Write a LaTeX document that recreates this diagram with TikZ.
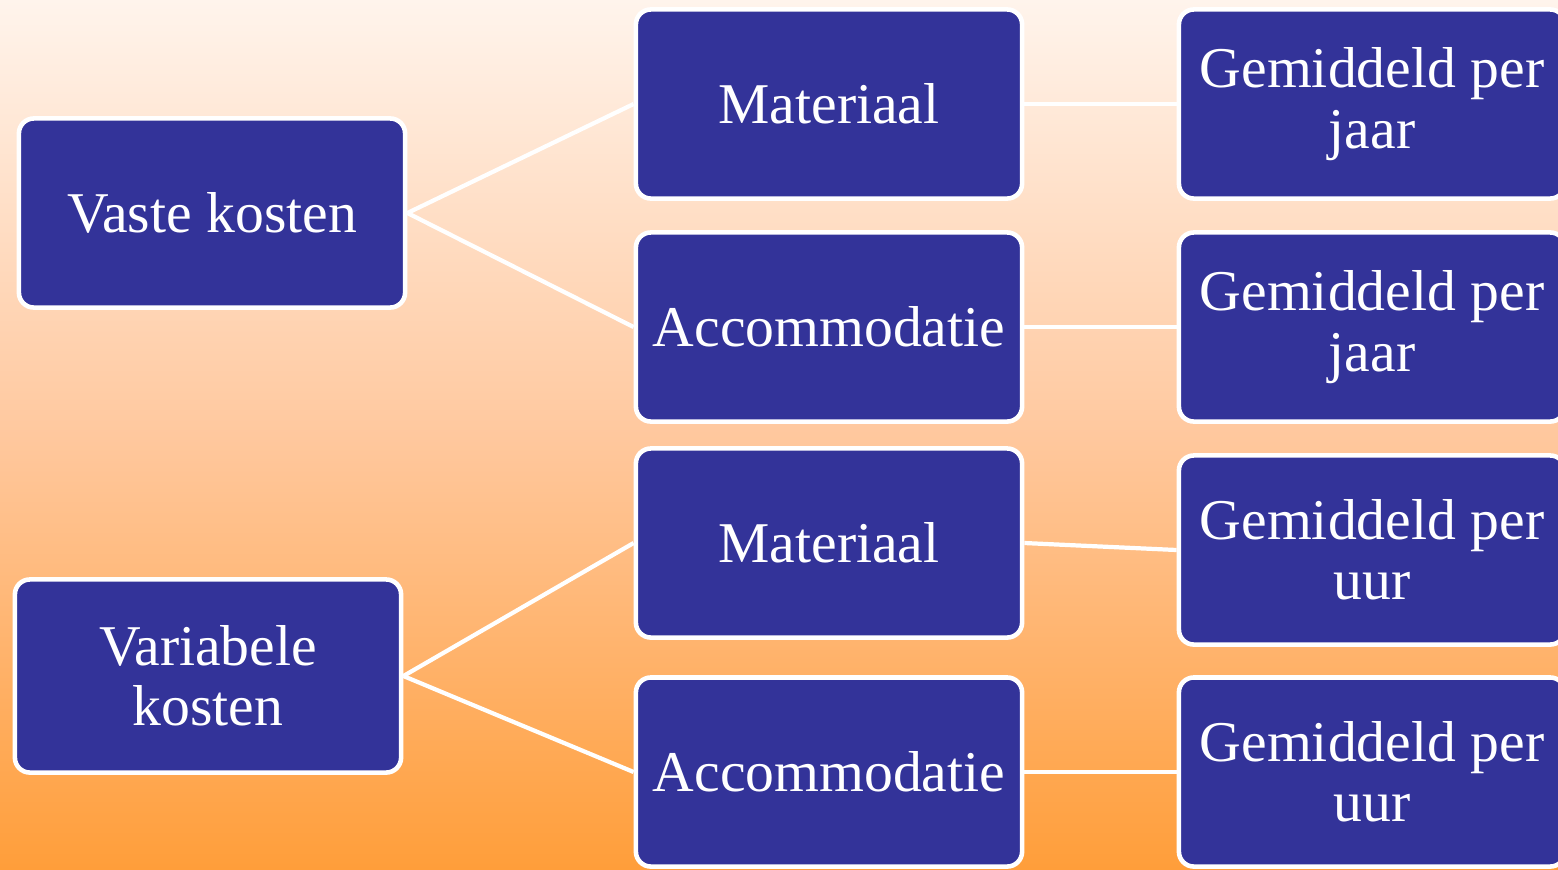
\documentclass[tikz,border=0pt]{standalone}
\usepackage{fontspec}
\setmainfont{Liberation Serif}
\definecolor{boxblue}{HTML}{333399}
\definecolor{bgtop}{HTML}{FFF4EC}
\definecolor{bgmid}{HTML}{FFC89E}
\definecolor{bgbot}{HTML}{FF9E3A}
\tikzset{
  kostbox/.style={draw=white, line width=1.3pt, fill=boxblue, rounded corners=0.15cm,
    minimum width=3.86cm, minimum height=1.89cm, inner sep=2pt, align=center,
    text=white, font=\fontsize{16.4}{17.2}\selectfont},
  link/.style={draw=white, line width=1.2pt}
}
\begin{document}
\begin{tikzpicture}[x=0.01cm, y=-0.01cm]
% achtergrond
\shade[top color=bgtop, bottom color=bgbot, middle color=bgmid] (0,0) rectangle (1558,869);
\useasboundingbox (0,0) rectangle (1558,869);
\clip (0,0) rectangle (1558,869);

%%%%%%%%%%%%%------------- kosten
\node[kostbox] (vaste) at (212,213) {Vaste kosten};
\node[kostbox, minimum height=1.93cm] (variabel) at (208,676) {Variabele\\kosten};

%%%%%%%%%%%%%------------- soorten
\node[kostbox] (mat1) at (829,104) {Materiaal};
\node[kostbox] (acc1) at (829,327) {Accommodatie};
\node[kostbox] (mat2) at (829,543) {Materiaal};
\node[kostbox] (acc2) at (829,772) {Accommodatie};

%%%%%%%%%%%%%------------- gemiddeld
\node[kostbox] (gem1) at (1372,104) {Gemiddeld per\\jaar};
\node[kostbox] (gem2) at (1372,327) {Gemiddeld per\\jaar};
\node[kostbox] (gem3) at (1372,550) {Gemiddeld per\\uur};
\node[kostbox] (gem4) at (1372,772) {Gemiddeld per\\uur};

\draw[link] (vaste.east)--(mat1.west);
\draw[link] (vaste.east)--(acc1.west);
\draw[link] (variabel.east)--(mat2.west);
\draw[link] (variabel.east)--(acc2.west);
\draw[link] (mat1.east)--(gem1.west);
\draw[link] (acc1.east)--(gem2.west);
\draw[link] (mat2.east)--(gem3.west);
\draw[link] (acc2.east)--(gem4.west);

\end{tikzpicture}
\end{document}
